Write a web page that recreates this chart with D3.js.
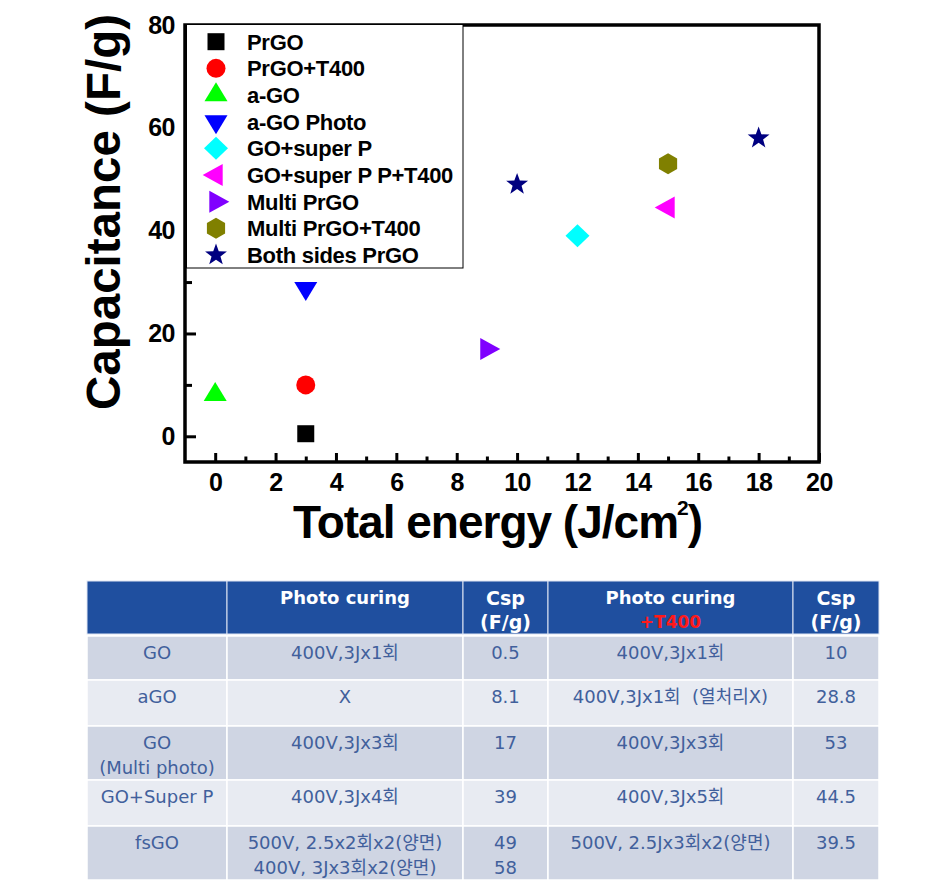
<!DOCTYPE html>
<html>
<head>
<meta charset="utf-8">
<script src="https://cdn.jsdelivr.net/npm/d3@7"></script>
<style>
  html, body { margin: 0; padding: 0; background: #ffffff; }
  svg { display: block; }
</style>
</head>
<body>
<svg id="chart" width="935" height="891"></svg>
<script>
// ---------------- DATA ----------------
const categories = ["PrGO", "PrGO+T400", "a-GO", "a-GO Photo", "GO+super P",
  "GO+super P P+T400", "Multi PrGO", "Multi PrGO+T400", "Both sides PrGO"];
const energy = [[3], [3], [0], [3], [12], [15], [9], [15], [10, 18]];
const capacitance = [[0.5], [10], [8.1], [28.8], [39], [44.5], [17], [53], [49, 58]];
const colors = ["#000000", "#ff0000", "#00ff00", "#0000ff", "#00ffff",
  "#ff00ff", "#8000ff", "#808000", "#000080"];
const shapes = ["square", "circle", "triangleUp", "triangleDown", "diamond",
  "triangleLeft", "triangleRight", "hexagon", "star"];
const xMajorTicks = [0, 2, 4, 6, 8, 10, 12, 14, 16, 18, 20];
const xMinorTicks = [1, 3, 5, 7, 9, 11, 13, 15, 17, 19];
const yMajorTicks = [0, 20, 40, 60, 80];
const yMinorTicks = [10, 30, 50, 70];
const xTitle = ["Total energy (J/cm", "2", ")"];
const yTitle = "Capacitance (F/g)";

// table
const tableHeader = [[""], ["Photo curing"], ["Csp", "(F/g)"], ["Photo curing", "+T400"], ["Csp", "(F/g)"]];
const tableSample = [["GO"], ["aGO"], ["GO", "(Multi photo)"], ["GO+Super P"], ["fsGO"]];
const tableCuring = [["400V,3Jx1회"], ["X"], ["400V,3Jx3회"], ["400V,3Jx4회"],
  ["500V, 2.5x2회x2(양면)", "400V, 3Jx3회x2(양면)"]];
const tableCsp = [["0.5"], ["8.1"], ["17"], ["39"], ["49", "58"]];
const tableCuringT400 = [["400V,3Jx1회"], ["400V,3Jx1회  (열처리X)"], ["400V,3Jx3회"], ["400V,3Jx5회"],
  ["500V, 2.5Jx3회x2(양면)"]];
const tableCspT400 = [["10"], ["28.8"], ["53"], ["44.5"], ["39.5"]];

// ---------------- LAYOUT ----------------
const svg = d3.select("#chart");
const plot = { left: 185, right: 819, top: 25, bottom: 462 };
const x = d3.scaleLinear().domain([-1, 20]).range([plot.left, plot.right]);
const y = d3.scaleLinear().domain([-5, 80]).range([plot.bottom, plot.top]);
const FONT = "'Liberation Sans', Arial, Helvetica, sans-serif";

// axes
const gx = svg.append("g").attr("transform", `translate(0,${plot.bottom})`)
  .call(d3.axisBottom(x).tickValues(xMajorTicks).tickSize(-9).tickPadding(11).tickFormat(d3.format("d")));
const gxm = svg.append("g").attr("transform", `translate(0,${plot.bottom})`)
  .call(d3.axisBottom(x).tickValues(xMinorTicks).tickSize(-5.5).tickFormat(""));
const gy = svg.append("g").attr("transform", `translate(${plot.left},0)`)
  .call(d3.axisLeft(y).tickValues(yMajorTicks).tickSize(-11).tickPadding(10).tickFormat(d3.format("d")));
const gym = svg.append("g").attr("transform", `translate(${plot.left},0)`)
  .call(d3.axisLeft(y).tickValues(yMinorTicks).tickSize(-7).tickFormat(""));
[gx, gxm, gy, gym].forEach(g => {
  g.select(".domain").remove();
  g.selectAll(".tick line").attr("stroke", "#000").attr("stroke-width", 3);
  g.selectAll(".tick text").attr("fill", "#000").attr("font-family", FONT)
    .attr("font-weight", "bold").attr("font-size", 25).attr("letter-spacing", "-0.5px");
});

// marker shapes
function shapePath(type) {
  switch (type) {
    case "square": return "M-8.5,-8.5H8.5V8.5H-8.5Z";
    case "circle": return d3.symbol(d3.symbolCircle, Math.PI * 9.5 * 9.5)();
    case "triangleUp": { const w = 23, h = 19; return `M0,${-2*h/3}L${w/2},${h/3}L${-w/2},${h/3}Z`; }
    case "triangleDown": { const w = 23, h = 19; return `M0,${2*h/3}L${w/2},${-h/3}L${-w/2},${-h/3}Z`; }
    case "triangleLeft": { const w = 20, h = 22; return `M${-2*w/3},0L${w/3},${-h/2}L${w/3},${h/2}Z`; }
    case "triangleRight": { const w = 20, h = 22; return `M${2*w/3},0L${-w/3},${-h/2}L${-w/3},${h/2}Z`; }
    case "diamond": return "M0,-11.5L12,0L0,11.5L-12,0Z";
    case "hexagon": {
      const R = 10.5; const pts = [];
      for (let i = 0; i < 6; i++) { const a = (-90 + 60 * i) * Math.PI / 180; pts.push([R * Math.cos(a), R * Math.sin(a)]); }
      return "M" + pts.map(p => p.join(",")).join("L") + "Z";
    }
    case "star": {
      const Ro = 11.5, Ri = 4.7; const pts = [];
      for (let i = 0; i < 10; i++) { const r = i % 2 ? Ri : Ro; const a = (-90 + 36 * i) * Math.PI / 180; pts.push([r * Math.cos(a), r * Math.sin(a)]); }
      return "M" + pts.map(p => p.join(",")).join("L") + "Z";
    }
  }
}

// points
const points = [];
categories.forEach((c, i) => energy[i].forEach((e, j) => points.push({ i, e, v: capacitance[i][j] })));
svg.append("g").selectAll("path").data(points).join("path")
  .attr("d", d => shapePath(shapes[d.i]))
  .attr("transform", d => `translate(${x(d.e)},${y(d.v)})`)
  .attr("fill", d => colors[d.i]);

// frame
svg.append("rect").attr("x", plot.left).attr("y", plot.top)
  .attr("width", plot.right - plot.left).attr("height", plot.bottom - plot.top)
  .attr("fill", "none").attr("stroke", "#000").attr("stroke-width", 3.5);

// legend
const leg = svg.append("g");
leg.append("rect").attr("x", 186.5).attr("y", 24.5).attr("width", 276.5).attr("height", 243.5)
  .attr("fill", "#fff").attr("stroke", "#000").attr("stroke-width", 1);
const legRow = d3.scaleLinear().domain([0, categories.length - 1]).range([41.7, 255]);
const li = leg.selectAll("g.item").data(categories).join("g").attr("class", "item")
  .attr("transform", (d, i) => `translate(0,${legRow(i)})`);
li.append("path").attr("d", (d, i) => shapePath(shapes[i]))
  .attr("transform", "translate(216,0)").attr("fill", (d, i) => colors[i]);
li.append("text").attr("x", 247).attr("y", 8).text(d => d)
  .attr("font-family", FONT).attr("font-weight", "bold").attr("font-size", 22)
  .attr("letter-spacing", "-0.3px").attr("fill", "#000");

// axis titles
svg.append("text").attr("transform", "translate(120,212) rotate(-90)")
  .attr("text-anchor", "middle").attr("font-family", FONT).attr("font-weight", "bold")
  .attr("font-size", 48).attr("textLength", 396).attr("lengthAdjust", "spacingAndGlyphs")
  .text(yTitle);
const xt = svg.append("text").attr("x", 293).attr("y", 538)
  .attr("font-family", FONT).attr("font-weight", "bold").attr("font-size", 46);
xt.append("tspan").attr("letter-spacing", "-1px").text(xTitle[0]);
xt.append("tspan").attr("font-size", 21).attr("dx", -1).attr("dy", -23).text(xTitle[1]);
xt.append("tspan").attr("dx", -1).attr("dy", 23).text(xTitle[2]);

// ---------------- TABLE ----------------
const TFONT = "'DejaVu Sans', Verdana, 'Noto Sans CJK KR', sans-serif";
const colEdges = [87, 227, 463, 548, 793, 879];
const headerBox = [581, 634];
const rowEdges = [636, 680, 726, 780, 826, 880];
const bodyCols = [tableSample, tableCuring, tableCsp, tableCuringT400, tableCspT400];
const tg = svg.append("g");

// header
tableHeader.forEach((lines, c) => {
  tg.append("rect").attr("x", colEdges[c]).attr("y", headerBox[0])
    .attr("width", colEdges[c + 1] - colEdges[c]).attr("height", headerBox[1] - headerBox[0])
    .attr("fill", "#1f4f9f").attr("stroke", "#dfe6f3").attr("stroke-width", 1);
  const cx = (colEdges[c] + colEdges[c + 1]) / 2;
  lines.forEach((t, k) => {
    const isCsp = t === "Csp" || t === "(F/g)";
    const isRed = t === "+T400";
    tg.append("text").attr("x", cx).attr("y", headerBox[0] + 17 + k * 24)
      .attr("dy", "0.36em").attr("text-anchor", "middle")
      .attr("font-family", TFONT).attr("font-weight", "bold")
      .attr("font-size", isCsp ? 19 : (isRed ? 17 : 18))
      .attr("fill", isRed ? "#ff1a1a" : "#ffffff").text(t);
  });
});

// body
for (let r = 0; r < tableSample.length; r++) {
  const top = rowEdges[r], bot = rowEdges[r + 1];
  for (let c = 0; c < bodyCols.length; c++) {
    tg.append("rect").attr("x", colEdges[c]).attr("y", top)
      .attr("width", colEdges[c + 1] - colEdges[c]).attr("height", bot - top)
      .attr("fill", r % 2 === 0 ? "#cfd5e3" : "#e8ebf2")
      .attr("stroke", "#ffffff").attr("stroke-width", 1.5);
    const cx = (colEdges[c] + colEdges[c + 1]) / 2;
    bodyCols[c][r].forEach((t, k) => {
      tg.append("text").attr("x", cx).attr("y", top + 17 + k * 25)
        .attr("dy", "0.36em").attr("text-anchor", "middle")
        .attr("font-family", TFONT).attr("font-size", 18)
        .style("white-space", "pre")
        .attr("fill", "#41609c").text(t);
    });
  }
}
</script>
</body>
</html>
